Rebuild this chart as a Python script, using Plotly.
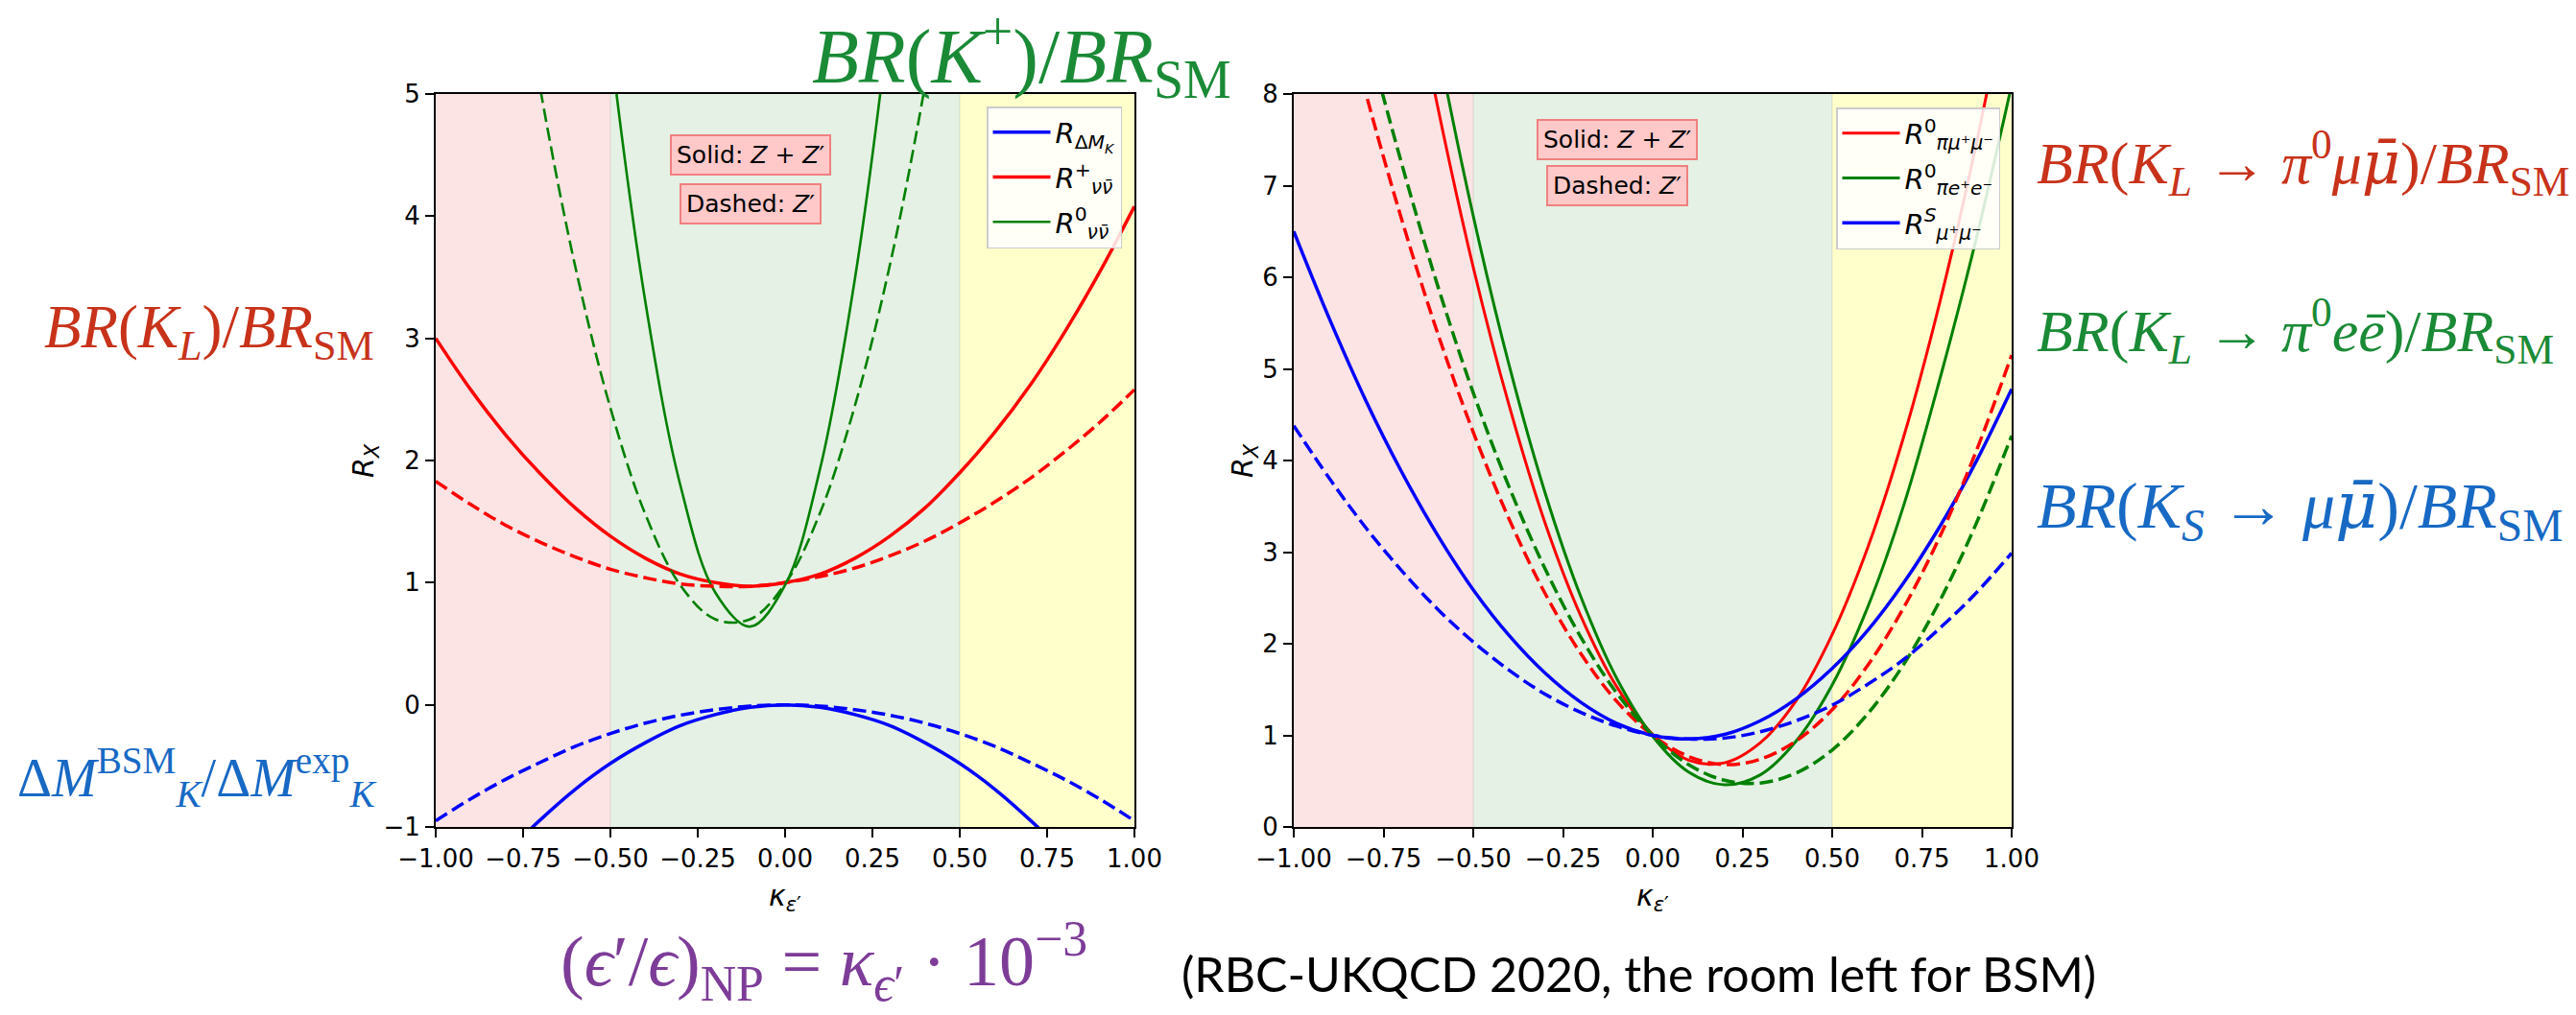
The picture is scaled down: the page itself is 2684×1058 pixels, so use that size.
import plotly.graph_objects as go

# ---------------- data ----------------
kappa = [-1.0, -0.9, -0.8, -0.7, -0.6, -0.5, -0.4, -0.3, -0.2, -0.1, 0.0,
         0.1, 0.2, 0.3, 0.4, 0.5, 0.6, 0.7, 0.8, 0.9, 1.0]

# left panel
dMK_solid = [-1.91, -1.55, -1.22, -0.94, -0.69, -0.48, -0.31, -0.17, -0.08, -0.02, 0.0,
             -0.02, -0.08, -0.17, -0.31, -0.48, -0.69, -0.94, -1.22, -1.55, -1.91]
dMK_dashed = [-0.95, -0.77, -0.61, -0.47, -0.34, -0.235, -0.15, -0.085, -0.04, -0.01, 0.0,
              -0.01, -0.04, -0.085, -0.15, -0.235, -0.34, -0.47, -0.61, -0.77, -0.95]
nuplus_solid = [3.00, 2.58, 2.21, 1.89, 1.61, 1.38, 1.20, 1.07, 1.00, 0.97, 1.00,
                1.07, 1.20, 1.38, 1.61, 1.90, 2.23, 2.61, 3.05, 3.54, 4.08]
nuplus_dashed = [1.83, 1.64, 1.47, 1.33, 1.21, 1.11, 1.04, 0.99, 0.97, 0.97, 1.00,
                 1.05, 1.12, 1.22, 1.34, 1.49, 1.66, 1.85, 2.07, 2.31, 2.58]
nu0_solid = [25.1, 19.9, 15.4, 11.5, 8.14, 5.41, 3.30, 1.80, 0.92, 0.64, 0.98,
             1.93, 3.49, 5.66, 8.44, 11.8, 15.8, 20.5, 25.7, 31.5, 38.0]
nu0_dashed = [11.1, 8.79, 6.77, 5.03, 3.58, 2.43, 1.56, 0.98, 0.70, 0.70, 0.99,
              1.57, 2.45, 3.60, 5.06, 6.81, 8.84, 11.2, 13.8, 16.7, 19.9]

# right panel
pimumu_solid = [17.4, 14.7, 12.2, 9.89, 7.88, 6.11, 4.60, 3.32, 2.30, 1.53, 1.01,
                0.73, 0.70, 0.92, 1.38, 2.10, 3.06, 4.27, 5.73, 7.43, 9.39]
pimumu_dashed = [11.2, 9.54, 8.02, 6.64, 5.40, 4.31, 3.36, 2.55, 1.89, 1.37, 1.00,
                 0.77, 0.68, 0.74, 0.94, 1.28, 1.77, 2.40, 3.17, 4.09, 5.15]
piee_solid = [18.6, 15.7, 13.1, 10.7, 8.56, 6.67, 5.04, 3.65, 2.51, 1.62, 0.99,
              0.60, 0.46, 0.57, 0.94, 1.55, 2.41, 3.52, 4.89, 6.40, 8.10]
piee_dashed = [12.1, 10.3, 8.71, 7.25, 5.92, 4.74, 3.71, 2.82, 2.07, 1.46, 1.00,
               0.68, 0.51, 0.48, 0.59, 0.84, 1.24, 1.78, 2.47, 3.30, 4.27]
Smumu_solid = [6.50, 5.54, 4.66, 3.88, 3.19, 2.59, 2.09, 1.68, 1.36, 1.13, 1.00,
               0.96, 1.01, 1.16, 1.40, 1.73, 2.15, 2.67, 3.28, 3.98, 4.78]
Smumu_dashed = [4.38, 3.80, 3.27, 2.80, 2.38, 2.02, 1.71, 1.45, 1.25, 1.10, 1.00,
                0.96, 0.97, 1.04, 1.16, 1.33, 1.56, 1.83, 2.17, 2.55, 2.99]

x_ticks = [-1.0, -0.75, -0.5, -0.25, 0.0, 0.25, 0.5, 0.75, 1.0]
x_ticklabels = ["\u22121.00", "\u22120.75", "\u22120.50", "\u22120.25", "0.00", "0.25", "0.50", "0.75", "1.00"]
yl_ticks = [-1, 0, 1, 2, 3, 4, 5]
yl_ticklabels = ["\u22121", "0", "1", "2", "3", "4", "5"]
yr_ticks = [0, 1, 2, 3, 4, 5, 6, 7, 8]
yr_ticklabels = [str(v) for v in yr_ticks]

region_bounds = [(-1.0, -0.5), (-0.5, 0.5), (0.5, 1.0)]
region_colors = ["#fde4e4", "#e5f1e4", "#ffffcc"]
region_edges = [-0.5, 0.5]

# ---------------- figure ----------------
W, H = 2684, 1058
def PX(x): return x / W
def PY(y): return 1 - y / H

RED, GREEN, BLUE = "#ff0000", "#008000", "#0000ff"
DASH = "14px,6px"
MATH = "DejaVu Sans"
SERIF = "Liberation Serif"

fig = go.Figure()

def add(y, color, dash, width, name, xa, ya, legend, show, group):
    fig.add_trace(go.Scatter(
        x=kappa, y=y, mode="lines", name=name, legendgroup=group,
        line=dict(color=color, width=width, dash=dash, shape="spline", smoothing=1.0),
        xaxis=xa, yaxis=ya, legend=legend, showlegend=show, hoverinfo="skip"))

# left panel (legend order: blue, red, green)
add(dMK_solid, BLUE, "solid", 3.5, "<i>R</i><sub>Δ<i>M</i><sub><i>K</i></sub></sub>", "x", "y", "legend", True, "a")
add(nuplus_solid, RED, "solid", 3.5, "<i>R</i><sup>+</sup><sub><i>νν̄</i></sub>", "x", "y", "legend", True, "b")
add(nu0_solid, GREEN, "solid", 2.6, "<i>R</i><sup>0</sup><sub><i>νν̄</i></sub>", "x", "y", "legend", True, "c")
add(dMK_dashed, BLUE, DASH, 3.5, "dMK Z'", "x", "y", "legend", False, "a")
add(nuplus_dashed, RED, DASH, 3.5, "nu+ Z'", "x", "y", "legend", False, "b")
add(nu0_dashed, GREEN, DASH, 2.6, "nu0 Z'", "x", "y", "legend", False, "c")

# right panel (legend order: red, green, blue)
add(pimumu_solid, RED, "solid", 3, "<i>R</i><sup>0</sup><sub><i>πμ</i>⁺<i>μ</i>⁻</sub>", "x2", "y2", "legend2", True, "d")
add(piee_solid, GREEN, "solid", 3, "<i>R</i><sup>0</sup><sub><i>πe</i>⁺<i>e</i>⁻</sub>", "x2", "y2", "legend2", True, "e")
add(Smumu_solid, BLUE, "solid", 3.5, "<i>R</i><sup><i>S</i></sup><sub><i>μ</i>⁺<i>μ</i>⁻</sub>", "x2", "y2", "legend2", True, "f")
add(pimumu_dashed, RED, DASH, 3.5, "pimumu Z'", "x2", "y2", "legend2", False, "d")
add(piee_dashed, GREEN, DASH, 3.5, "piee Z'", "x2", "y2", "legend2", False, "e")
add(Smumu_dashed, BLUE, DASH, 3.5, "Smumu Z'", "x2", "y2", "legend2", False, "f")

axis_common = dict(showline=True, linecolor="black", linewidth=2, mirror=True,
                   ticks="outside", ticklen=9, tickwidth=2, tickcolor="black",
                   showgrid=False, zeroline=False, automargin=False,
                   tickfont=dict(family=MATH, size=26, color="black"))
ydom = [1 - 862 / H, 1 - 98 / H]
legend_common = dict(xanchor="right", yanchor="top", bgcolor="rgba(255,255,255,0.85)",
                     bordercolor="#cccccc", borderwidth=1.5, tracegroupgap=6, itemwidth=60,
                     font=dict(family=MATH, size=29, color="black"))
fig.update_layout(
    width=W, height=H, autosize=False, margin=dict(l=0, r=0, t=0, b=0, pad=0),
    paper_bgcolor="white", plot_bgcolor="white",
    xaxis=dict(domain=[454 / W, 1182 / W], range=[-1, 1], anchor="y",
               tickvals=x_ticks, ticktext=x_ticklabels, **axis_common),
    yaxis=dict(domain=ydom, range=[-1, 5], anchor="x",
               tickvals=yl_ticks, ticktext=yl_ticklabels, **axis_common),
    xaxis2=dict(domain=[1348 / W, 2096 / W], range=[-1, 1], anchor="y2",
                tickvals=x_ticks, ticktext=x_ticklabels, **axis_common),
    yaxis2=dict(domain=ydom, range=[0, 8], anchor="x2",
                tickvals=yr_ticks, ticktext=yr_ticklabels, **axis_common),
    legend=dict(x=PX(1169), y=PY(111), **legend_common),
    legend2=dict(x=PX(2084), y=PY(112), **legend_common),
)

shapes = []
for xa, ya in (("x", "y domain"), ("x2", "y2 domain")):
    for (a, b), c in zip(region_bounds, region_colors):
        shapes.append(dict(type="rect", xref=xa, yref=ya, x0=a, x1=b, y0=0, y1=1,
                           fillcolor=c, line=dict(width=0), layer="below"))
    for e in region_edges:
        shapes.append(dict(type="line", xref=xa, yref=ya, x0=e, x1=e, y0=0, y1=1,
                           line=dict(color="rgba(0,0,0,0.05)", width=2), layer="below"))
fig.update_layout(shapes=shapes)

ann = []
def text(x, y, s, size, color, family, xanchor="center", yanchor="middle", angle=0, **kw):
    ann.append(dict(x=PX(x), y=PY(y), xref="paper", yref="paper", text=s, showarrow=False,
                    xanchor=xanchor, yanchor=yanchor, textangle=angle,
                    font=dict(size=size, color=color, family=family), **kw))

# axis titles
text(380, 480, "<i>R</i><sub><i>X</i></sub>", 30, "black", MATH, angle=-90)
text(1296, 480, "<i>R</i><sub><i>X</i></sub>", 30, "black", MATH, angle=-90)
text(818, 935, "<i>κ</i><sub><i>ε</i>′</sub>", 30, "black", MATH)
text(1722, 935, "<i>κ</i><sub><i>ε</i>′</sub>", 30, "black", MATH)

# boxes
box = dict(bgcolor="#ffc9c9", bordercolor="#f08080", borderwidth=2, borderpad=5)
text(782, 161, "Solid: <i>Z</i> + <i>Z</i>′", 25, "black", MATH, **box)
text(782, 212, "Dashed: <i>Z</i>′", 25, "black", MATH, **box)
text(1685, 146, "Solid: <i>Z</i> + <i>Z</i>′", 25, "black", MATH, **box)
text(1685, 194, "Dashed: <i>Z</i>′", 25, "black", MATH, **box)

# slide labels
C_GREEN, C_RED, C_BLUE, C_PURPLE = "#1a8a36", "#c8321a", "#1769c4", "#7d3c98"
MUBAR = "<span style=\"font-family:'DejaVu Serif'\">μ\u0304</span>"
SP = "\u00a0"
text(844, 58, "<i>BR</i>(<i>K</i><sup>+</sup>)/<i>BR</i><sub>SM</sub>", 80, C_GREEN, SERIF, xanchor="left")
text(44, 345, "<i>BR</i>(<i>K<sub>L</sub></i>)/<i>BR</i><sub>SM</sub>", 63, C_RED, SERIF, xanchor="left")
text(16, 810, "Δ<i>M</i><sup>BSM</sup><sub><i>K</i></sub>/Δ<i>M</i><sup>exp</sup><sub><i>K</i></sub>", 56, C_BLUE, SERIF, xanchor="left")
text(2120, 170, "<i>BR</i>(<i>K<sub>L</sub></i>" + SP + "→" + SP + "<i>π</i><sup>0</sup><i>μ" + MUBAR + "</i>)/<i>BR</i><sub>SM</sub>", 62, C_RED, SERIF, xanchor="left")
text(2120, 344, "<i>BR</i>(<i>K<sub>L</sub></i> → <i>π</i><sup>0</sup><i>eē</i>)/<i>BR</i><sub>SM</sub>", 62, C_GREEN, SERIF, xanchor="left")
text(2120, 530, "<i>BR</i>(<i>K<sub>S</sub></i>" + SP + "→" + SP + "<i>μ" + MUBAR + "</i>)/<i>BR</i><sub>SM</sub>", 68, C_BLUE, SERIF, xanchor="left")
text(582, 1002, "(<i>ϵ</i>′/<i>ϵ</i>)<sub>NP</sub> = <i>κ</i><sub><i>ϵ</i>′</sub> · 10<sup>−3</sup>", 74, C_PURPLE, SERIF, xanchor="left")
text(1229, 1015, "(RBC-UKQCD 2020, the room left for BSM)", 50, "black", "Lato", xanchor="left")

fig.update_layout(annotations=ann)
fig.write_html("out.html", post_script="document.body.style.margin='0';",
               config={"displayModeBar": False})
